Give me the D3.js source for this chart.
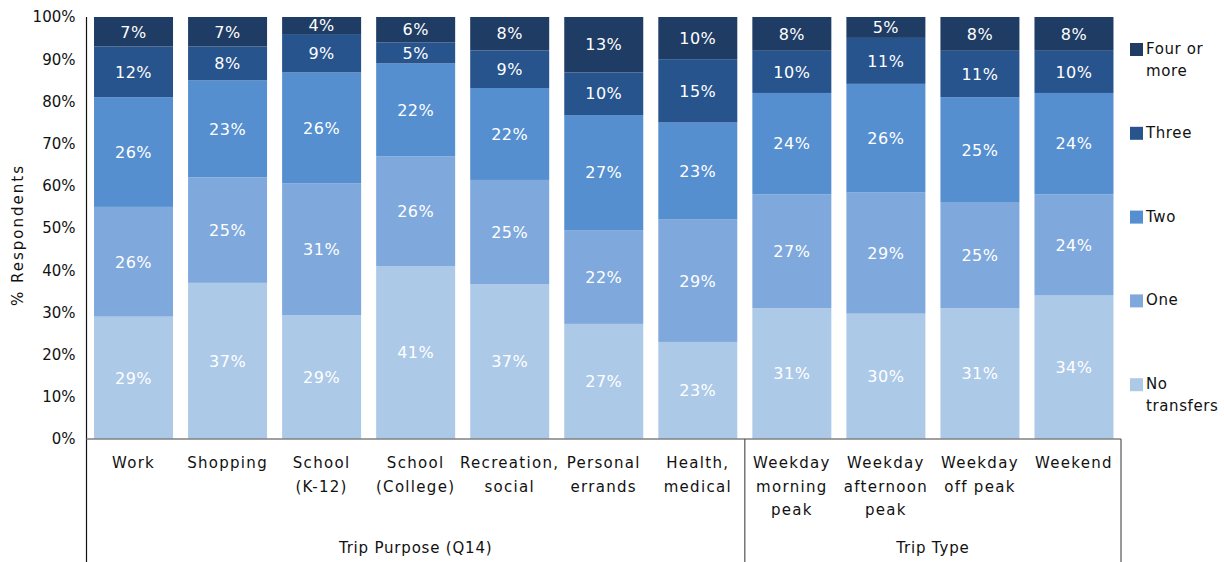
<!DOCTYPE html>
<html>
<head>
<meta charset="utf-8">
<script src="https://cdn.jsdelivr.net/npm/d3@7"></script>
<style>
  html, body { margin: 0; padding: 0; background: #fff; }
  svg { display: block; font-family: "DejaVu Sans", sans-serif; }
</style>
</head>
<body>
<svg id="chart" width="1224" height="562"></svg>
<script>
// Number of transfers per trip, share of respondents (%)
const categories = [
  "Work", "Shopping", "School (K-12)", "School (College)", "Recreation, social",
  "Personal errands", "Health, medical", "Weekday morning peak",
  "Weekday afternoon peak", "Weekday off peak", "Weekend"
];
const categoryLines = [
  ["Work"], ["Shopping"], ["School", "(K-12)"], ["School", "(College)"],
  ["Recreation,", "social"], ["Personal", "errands"], ["Health,", "medical"],
  ["Weekday", "morning", "peak"], ["Weekday", "afternoon", "peak"],
  ["Weekday", "off peak"], ["Weekend"]
];
const seriesNames = ["No transfers", "One", "Two", "Three", "Four or more"];
const noTransfers = [29, 37, 29, 41, 37, 27, 23, 31, 30, 31, 34];
const one         = [26, 25, 31, 26, 25, 22, 29, 27, 29, 25, 24];
const two         = [26, 23, 26, 22, 22, 27, 23, 24, 26, 25, 24];
const three       = [12,  8,  9,  5,  9, 10, 15, 10, 11, 11, 10];
const fourOrMore  = [ 7,  7,  4,  6,  8, 13, 10,  8,  5,  8,  8];
const groups = [
  { name: "Trip Purpose (Q14)", from: 0, to: 7 },
  { name: "Trip Type", from: 7, to: 11 }
];
const yTicks = [0, 0.1, 0.2, 0.3, 0.4, 0.5, 0.6, 0.7, 0.8, 0.9, 1];
const colors = ["#adc9e8", "#7fa9dc", "#568fd0", "#28548e", "#1e3c64"];

const seriesValues = [noTransfers, one, two, three, fourOrMore];
const rows = categories.map((c, i) => {
  const r = { category: c };
  seriesNames.forEach((s, k) => r[s] = seriesValues[k][i]);
  return r;
});

const svg = d3.select("#chart");
const plot = { left: 86.5, right: 1121, top: 17, bottom: 439 };

const x = d3.scaleBand().domain(categories).range([plot.left, plot.right])
  .paddingInner(0.16).paddingOuter(0.08);
const y = d3.scaleLinear().domain([0, 1]).range([plot.bottom, plot.top]);
const color = d3.scaleOrdinal().domain(seriesNames).range(colors);

// 100% stacked layout
const stacked = d3.stack().keys(seriesNames).offset(d3.stackOffsetExpand)(rows);

const layer = svg.append("g").selectAll("g").data(stacked).join("g")
  .attr("fill", d => color(d.key));
layer.selectAll("rect").data(d => d).join("rect")
  .attr("x", d => x(d.data.category))
  .attr("width", x.bandwidth())
  .attr("y", d => y(d[1]))
  .attr("height", d => y(d[0]) - y(d[1]));

// value labels inside segments
const labels = svg.append("g").attr("fill", "#fff")
  .attr("font-size", 16).attr("text-anchor", "middle");
stacked.forEach(s => {
  s.forEach(d => {
    labels.append("text")
      .attr("x", x(d.data.category) + x.bandwidth() / 2)
      .attr("y", (y(d[0]) + y(d[1])) / 2)
      .attr("dy", "0.36em")
      .attr("letter-spacing", 0.5)
      .text(d.data[s.key] + "%");
  });
});

// y axis
const yAxis = d3.axisLeft(y).tickValues(yTicks).tickSize(0).tickPadding(11)
  .tickFormat(d3.format(".0%"));
const gy = svg.append("g").attr("transform", `translate(${plot.left},0)`).call(yAxis);
gy.select(".domain").remove();
gy.selectAll("text").attr("font-size", 15).attr("fill", "#111")
  .attr("font-family", "DejaVu Sans, sans-serif");

svg.append("line").attr("x1", plot.left).attr("x2", plot.left)
  .attr("y1", plot.top).attr("y2", 562)
  .attr("stroke", "#111").attr("stroke-width", 1.2);

// x baseline
svg.append("line").attr("x1", plot.left).attr("x2", plot.right)
  .attr("y1", plot.bottom).attr("y2", plot.bottom)
  .attr("stroke", "#808080").attr("stroke-width", 1.5);

// group separators
const groupEdge = i => plot.left + i * (plot.right - plot.left) / categories.length;
[7, 11].forEach(i => {
  svg.append("line").attr("x1", groupEdge(i)).attr("x2", groupEdge(i))
    .attr("y1", plot.bottom).attr("y2", 562)
    .attr("stroke", "#555").attr("stroke-width", 1.2);
});

// category labels
const catG = svg.append("g").attr("font-size", 15).attr("fill", "#111")
  .attr("text-anchor", "middle").attr("letter-spacing", 1.3);
categories.forEach((c, i) => {
  const t = catG.append("text");
  categoryLines[i].forEach((ln, j) => {
    t.append("tspan").attr("x", x(c) + x.bandwidth() / 2)
      .attr("y", 468 + j * 23.5).text(ln);
  });
});

// group labels
svg.append("g").selectAll("text").data(groups).join("text")
  .attr("x", d => (groupEdge(d.from) + groupEdge(d.to)) / 2)
  .attr("y", 553)
  .attr("text-anchor", "middle").attr("font-size", 15).attr("fill", "#111")
  .attr("letter-spacing", 0.8)
  .text(d => d.name);

// y axis title
svg.append("text")
  .attr("transform", `translate(23,235) rotate(-90)`)
  .attr("text-anchor", "middle").attr("font-size", 15).attr("fill", "#111")
  .attr("letter-spacing", 2)
  .text("% Respondents");

// legend, top series first
const legendLines = {
  "Four or more": ["Four or", "more"], "Three": ["Three"], "Two": ["Two"],
  "One": ["One"], "No transfers": ["No", "transfers"]
};
const legend = svg.append("g");
seriesNames.slice().reverse().forEach((s, i) => {
  const yy = 43 + i * 83.8;
  legend.append("rect").attr("x", 1130).attr("y", yy).attr("width", 13).attr("height", 13)
    .attr("fill", color(s));
  const t = legend.append("text").attr("font-size", 15).attr("fill", "#111")
    .attr("letter-spacing", 0.6);
  legendLines[s].forEach((ln, j) => {
    t.append("tspan").attr("x", 1146).attr("y", yy + 11 + j * 22).text(ln);
  });
});
</script>
</body>
</html>
